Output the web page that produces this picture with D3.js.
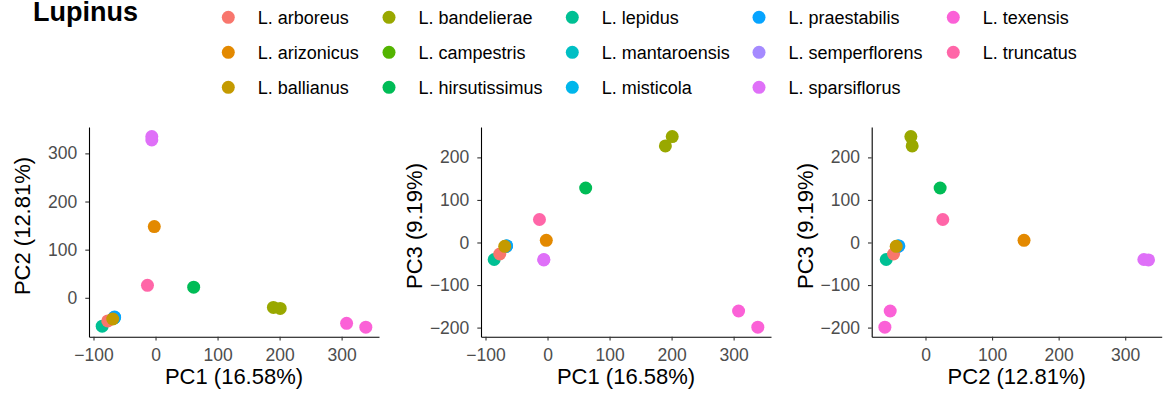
<!DOCTYPE html>
<html>
<head>
<meta charset="utf-8">
<script src="https://cdn.jsdelivr.net/npm/d3@7"></script>
<style>
  body { margin: 0; background: #fff; }
  text { font-family: "Liberation Sans", Arial, sans-serif; }
</style>
</head>
<body>
<svg id="chart" width="1163" height="395"></svg>
<script>
// legend order of species and their ggplot hue colours
var species = ["L. arboreus","L. arizonicus","L. ballianus","L. bandelierae","L. campestris",
  "L. hirsutissimus","L. lepidus","L. mantaroensis","L. misticola","L. praestabilis",
  "L. semperflorens","L. sparsiflorus","L. texensis","L. truncatus"];
var speciesColors = ["#F8766D","#E38900","#C49A00","#99A800","#53B400","#00BC56","#00C094",
  "#00BFC4","#00B6EB","#06A4FF","#A58AFF","#DF70F8","#FB61D7","#FF66A8"];

// samples, in drawing order
var sampleSpecies = ["L. campestris","L. mantaroensis","L. semperflorens","L. misticola",
  "L. lepidus","L. arboreus","L. praestabilis","L. ballianus","L. arizonicus","L. truncatus",
  "L. hirsutissimus","L. bandelierae","L. bandelierae","L. texensis","L. texensis",
  "L. sparsiflorus","L. sparsiflorus"];
var pc1 = [-67,-68,-67,-66,-86,-77,-66,-69,-2,-13,61.5,190,201,308,339,-6,-6];
var pc2 = [-42,-43,-41,-41,-59,-48,-40,-44,148,26,22,-20,-22,-53,-61,328,335];
var pc3 = [-9,-10,-9,-8,-40,-27,-8,-9,5,54,128,227,249,-161,-199,-40,-41];

var xTicks1 = [-100,0,100,200,300];
var yTicks1 = [0,100,200,300];
var xTicks2 = [-100,0,100,200,300];
var yTicks2 = [-200,-100,0,100,200];
var xTicks3 = [0,100,200,300];
var yTicks3 = [-200,-100,0,100,200];

var svg = d3.select("#chart");
var color = d3.scaleOrdinal().domain(species).range(speciesColors);

// title
svg.append("text")
  .attr("x",33).attr("y",21)
  .attr("font-size",27).attr("font-weight","bold")
  .text("Lupinus");

// legend, 3 rows, column-wise
var legCols = [228.3,389,572.3,759,953.3];
var leg = svg.append("g");
species.forEach(function(s,i){
  var c = Math.floor(i/3), r = i%3;
  var y = 17.3 + r*35;
  leg.append("circle").attr("cx",legCols[c]).attr("cy",y).attr("r",6.5).attr("fill",color(s));
  leg.append("text").attr("x",legCols[c]+29.4).attr("y",y+6.6)
    .attr("font-size",18).attr("fill","#000").text(s);
});

function expand(v){
  var e = d3.extent(v), pad = (e[1]-e[0])*0.05;
  return [e[0]-pad, e[1]+pad];
}

var panels = [
  {left:89, xv:pc1, yv:pc2, xlab:"PC1 (16.58%)", ylab:"PC2 (12.81%)", xt:xTicks1, yt:yTicks1},
  {left:481, xv:pc1, yv:pc3, xlab:"PC1 (16.58%)", ylab:"PC3 (9.19%)", xt:xTicks2, yt:yTicks2},
  {left:871.7, xv:pc2, yv:pc3, xlab:"PC2 (12.81%)", ylab:"PC3 (9.19%)", xt:xTicks3, yt:yTicks3}
];
var plotTop = 127, plotBottom = 336.7, pw = 290;

panels.forEach(function(p){
  var x = d3.scaleLinear().domain(expand(p.xv)).range([p.left, p.left+pw]);
  var y = d3.scaleLinear().domain(expand(p.yv)).range([plotBottom, plotTop]);
  var g = svg.append("g");

  var pts = sampleSpecies.map(function(s,i){ return {sp:s, x:p.xv[i], y:p.yv[i]}; });
  g.selectAll("circle.pt").data(pts).enter().append("circle")
    .attr("class","pt")
    .attr("cx",function(d){ return x(d.x); })
    .attr("cy",function(d){ return y(d.y); })
    .attr("r",6.5)
    .attr("fill",function(d){ return color(d.sp); });

  var xa = g.append("g").attr("transform","translate(0,"+plotBottom+")")
    .call(d3.axisBottom(x).tickValues(p.xt).tickSize(3.7).tickPadding(8).tickSizeOuter(0));
  var ya = g.append("g").attr("transform","translate("+p.left+",0)")
    .call(d3.axisLeft(y).tickValues(p.yt).tickSize(3.7).tickPadding(8).tickSizeOuter(0));
  [xa,ya].forEach(function(a){
    a.select(".domain").attr("stroke","#000").attr("stroke-width",1.1);
    a.selectAll(".tick line").attr("stroke","#333").attr("stroke-width",1.1);
    a.selectAll(".tick text").attr("fill","#4D4D4D").attr("font-size",17.5)
      .attr("font-family","Liberation Sans, Arial, sans-serif");
  });

  g.append("text")
    .attr("x",p.left+pw/2).attr("y",384)
    .attr("text-anchor","middle").attr("font-size",22)
    .text(p.xlab);
  g.append("text")
    .attr("transform","translate("+(p.left-59)+",226) rotate(-90)")
    .attr("text-anchor","middle").attr("font-size",22)
    .text(p.ylab);
});
</script>
</body>
</html>
